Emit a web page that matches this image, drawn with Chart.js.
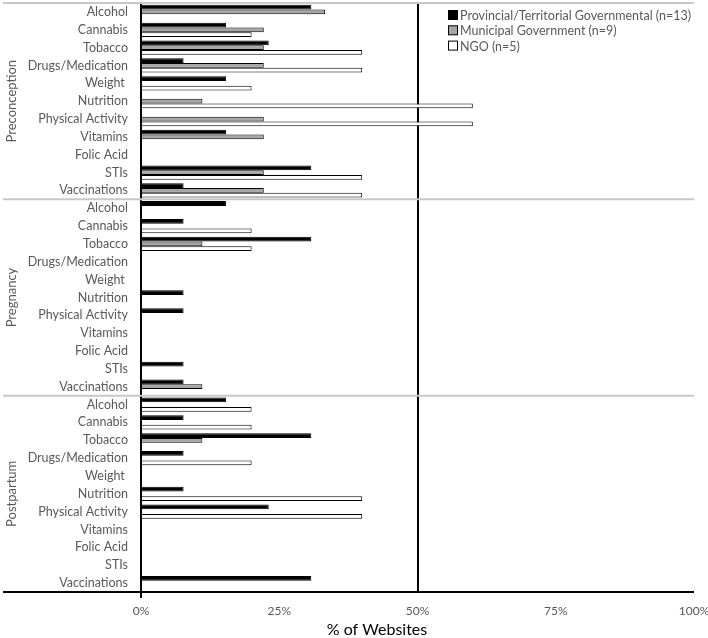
<!DOCTYPE html>
<html>
<head>
<meta charset="utf-8">
<script src="https://cdn.jsdelivr.net/npm/chart.js@4/dist/chart.umd.min.js"></script>
<style>
  html, body { margin: 0; padding: 0; background: #fff; }
  #wrap { width: 708px; height: 638px; }
</style>
</head>
<body>
<div id="wrap"><canvas id="grafico"></canvas></div>
<script>
// fases e temas
const phases = ['Preconception', 'Pregnancy', 'Postpartum'];
const topics = ['Alcohol', 'Cannabis', 'Tobacco', 'Drugs/Medication', 'Weight ', 'Nutrition',
  'Physical Activity', 'Vitamins', 'Folic Acid', 'STIs', 'Vaccinations'];

// % de websites (preconception | pregnancy | postpartum)
const provincial = [
  30.8, 15.4, 23.1, 7.7, 15.4, 0, 0, 15.4, 0, 30.8, 7.7,
  15.4, 7.7, 30.8, 0, 0, 7.7, 7.7, 0, 0, 7.7, 7.7,
  15.4, 7.7, 30.8, 7.7, 0, 7.7, 23.1, 0, 0, 0, 30.8
];
const municipal = [
  33.3, 22.2, 22.2, 22.2, 0, 11.1, 22.2, 22.2, 0, 22.2, 22.2,
  0, 0, 11.1, 0, 0, 0, 0, 0, 0, 0, 11.1,
  0, 0, 11.1, 0, 0, 0, 0, 0, 0, 0, 0
];
const ngo = [
  0, 20, 40, 40, 20, 60, 60, 0, 0, 40, 40,
  0, 20, 20, 0, 0, 0, 0, 0, 0, 0, 0,
  20, 20, 0, 20, 0, 40, 40, 0, 0, 0, 0
];
const seriesNames = ['Provincial/Territorial Governmental (n=13)', 'Municipal Government (n=9)', 'NGO (n=5)'];
const xTicks = [0, 25, 50, 75, 100];

const labels = [];
phases.forEach(() => topics.forEach(t => labels.push(t)));

const cinza = '#595959';
const fonte = 'Lato, "Open Sans", sans-serif';

// linhas, rotulos das fases, legenda e titulo do eixo
const extras = {
  id: 'extras',
  beforeDatasetsDraw(chart) {
    const { ctx, chartArea } = chart;
    const step = (chartArea.bottom - chartArea.top) / labels.length;
    ctx.save();
    ctx.strokeStyle = '#c8c8c8';
    ctx.lineWidth = 2;
    const linhas = [chartArea.top];
    for (let i = 1; i < phases.length; i++) linhas.push(chartArea.top + i * topics.length * step);
    linhas.forEach(ly => {
      ctx.beginPath();
      ctx.moveTo(3, ly);
      ctx.lineTo(chartArea.right, ly);
      ctx.stroke();
    });
    ctx.restore();
  },
  afterDraw(chart) {
    const { ctx, chartArea } = chart;
    const step = (chartArea.bottom - chartArea.top) / labels.length;
    ctx.save();
    // linha de base
    ctx.strokeStyle = '#000';
    ctx.lineWidth = 2;
    ctx.beginPath();
    ctx.moveTo(3, chartArea.bottom);
    ctx.lineTo(chartArea.right, chartArea.bottom);
    ctx.stroke();
    ctx.beginPath();
    ctx.moveTo(chartArea.left, chartArea.bottom);
    ctx.lineTo(chartArea.left, chartArea.bottom + 6);
    ctx.stroke();

    // fases
    ctx.fillStyle = cinza;
    ctx.font = '13px ' + fonte;
    ctx.textAlign = 'center';
    ctx.textBaseline = 'middle';
    phases.forEach((p, i) => {
      const cy = chartArea.top + (i + 0.5) * topics.length * step;
      ctx.save();
      ctx.translate(12, cy);
      ctx.rotate(-Math.PI / 2);
      ctx.fillText(p, 0, 0);
      ctx.restore();
    });

    // legenda
    ctx.textAlign = 'left';
    ctx.font = '12.5px ' + fonte;
    chart.data.datasets.forEach((ds, i) => {
      const ly = 15 + i * 15.3;
      ctx.fillStyle = ds.backgroundColor;
      ctx.fillRect(448.5, ly - 4.5, 9, 9);
      ctx.strokeStyle = '#000';
      ctx.lineWidth = 1;
      ctx.strokeRect(448.5, ly - 4.5, 9, 9);
      ctx.fillStyle = cinza;
      ctx.fillText(ds.label, 460, ly + 1);
    });

    // titulo do eixo x
    ctx.fillStyle = '#000';
    ctx.font = '16px ' + fonte;
    ctx.textAlign = 'center';
    ctx.fillText('% of Websites', 377, 630);
    ctx.restore();
  }
};

const grafico = document.getElementById('grafico');
new Chart(grafico, {
  type: 'bar',
  data: {
    labels: labels,
    datasets: [
      { label: seriesNames[0], data: provincial, backgroundColor: '#000000', borderColor: '#000000', borderWidth: 1 },
      { label: seriesNames[1], data: municipal, backgroundColor: '#a6a6a6', borderColor: '#000000', borderWidth: 1 },
      { label: seriesNames[2], data: ngo, backgroundColor: '#ffffff', borderColor: '#000000', borderWidth: 1 }
    ]
  },
  options: {
    indexAxis: 'y',
    responsive: true,
    maintainAspectRatio: false,
    animation: false,
    layout: { padding: { top: 3, right: 14, left: 0, bottom: 0 } },
    datasets: { bar: { categoryPercentage: 0.8, barPercentage: 1.0, borderSkipped: 'start' } },
    plugins: { legend: { display: false }, tooltip: { enabled: false } },
    scales: {
      x: {
        min: 0,
        max: 100,
        afterBuildTicks: (s) => { s.ticks = xTicks.map(v => ({ value: v })); },
        afterFit: (s) => { s.height = 46; s.paddingLeft = 0; s.paddingRight = 0; },
        border: { display: false },
        grid: {
          drawTicks: false,
          lineWidth: 2,
          color: (c) => (c.tick && c.tick.value === 50 ? '#000' : 'rgba(0,0,0,0)')
        },
        ticks: {
          padding: 12,
          color: cinza,
          font: { family: fonte, size: 12 },
          callback: (v) => v + '%'
        }
      },
      y: {
        afterFit: (s) => { s.width = 141; s.paddingTop = 0; s.paddingBottom = 0; },
        border: { display: true, color: '#000', width: 2 },
        grid: { display: false, drawTicks: false },
        ticks: {
          autoSkip: false,
          padding: 13,
          color: cinza,
          font: { family: fonte, size: 12.5 }
        }
      }
    }
  },
  plugins: [extras]
});
</script>
</body>
</html>
